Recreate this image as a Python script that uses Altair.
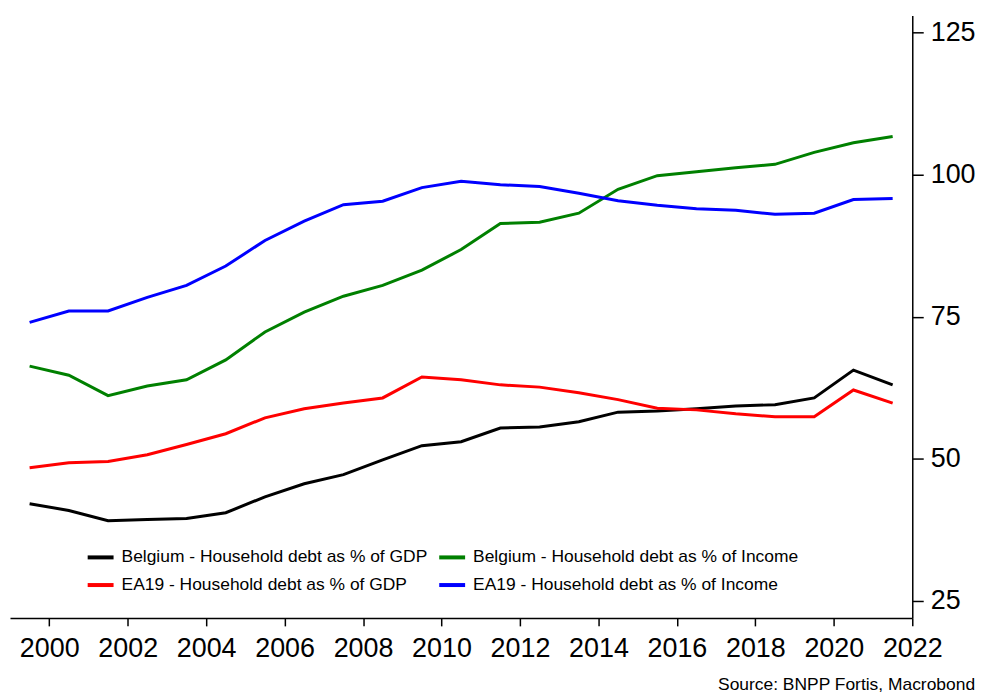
import altair as alt
import pandas as pd

years = [1999.5 + i for i in range(23)]

be_gdp = [42.1, 40.9, 39.1, 39.3, 39.5, 40.5, 43.3, 45.6, 47.2, 49.8, 52.3, 53.0,
          55.4, 55.6, 56.5, 58.2, 58.4, 58.8, 59.3, 59.5, 60.7, 65.6, 63.0]
be_inc = [66.3, 64.7, 61.1, 62.8, 63.9, 67.4, 72.3, 75.8, 78.6, 80.5, 83.2, 86.8,
          91.4, 91.6, 93.2, 97.4, 99.8, 100.5, 101.2, 101.8, 103.9, 105.6, 106.7]
ea_gdp = [48.4, 49.3, 49.5, 50.7, 52.5, 54.4, 57.2, 58.8, 59.8, 60.7, 64.4, 63.9,
          63.0, 62.6, 61.6, 60.4, 58.9, 58.6, 57.9, 57.4, 57.4, 62.1, 59.8]
ea_inc = [74.0, 76.0, 76.0, 78.4, 80.5, 83.9, 88.4, 91.8, 94.7, 95.3, 97.7, 98.8,
          98.2, 97.9, 96.7, 95.4, 94.6, 94.0, 93.7, 93.0, 93.2, 95.6, 95.8]

# legend fills column by column: column 1 = GDP series, column 2 = Income series
series_names = [
    "Belgium - Household debt as % of GDP",
    "EA19 - Household debt as % of GDP",
    "Belgium - Household debt as % of Income",
    "EA19 - Household debt as % of Income",
]
series_values = [be_gdp, ea_gdp, be_inc, ea_inc]
series_colors = ["#000000", "#ff0000", "#008000", "#0000ff"]

x_ticks = list(range(2000, 2023, 2))
y_ticks = [25, 50, 75, 100, 125]

rows = []
for name, vals in zip(series_names, series_values):
    for yr, v in zip(years, vals):
        rows.append({"year": yr, "value": v, "series": name})
df = pd.DataFrame(rows)

FONT = "Liberation Sans"

chart = alt.Chart(df).mark_line(strokeWidth=3).encode(
    x=alt.X("year:Q",
            scale=alt.Scale(domain=[1999, 2022], nice=False, zero=False),
            axis=alt.Axis(values=x_ticks, format="d", title=None, grid=False,
                          labelFontSize=27, labelFont=FONT, labelColor="black",
                          tickSize=8, tickColor="black", tickWidth=1.5,
                          domainColor="black", domainWidth=1.5,
                          labelPadding=10, labelFlush=False, labelOverlap=False)),
    y=alt.Y("value:Q",
            scale=alt.Scale(domain=[22, 128], nice=False, zero=False),
            axis=alt.Axis(orient="right", values=y_ticks, title=None, grid=False,
                          labelFontSize=27, labelFont=FONT, labelColor="black",
                          tickSize=11, tickColor="black", tickWidth=1.5,
                          domainColor="black", domainWidth=1.5,
                          labelPadding=7)),
    color=alt.Color("series:N",
                    scale=alt.Scale(domain=series_names, range=series_colors),
                    legend=alt.Legend(title=None, orient="none", legendX=76, legendY=529,
                                      columns=2, columnPadding=3, rowPadding=4,
                                      symbolType="stroke", symbolSize=676,
                                      symbolStrokeWidth=4, labelFontSize=17.5,
                                      labelFont=FONT, labelColor="black",
                                      labelOffset=6, labelLimit=0, padding=0)),
).properties(
    width=906,
    height=605,
    padding={"left": 2, "top": 6, "right": 2, "bottom": 2},
    title=alt.TitleParams("Source: BNPP Fortis, Macrobond", orient="bottom",
                          anchor="end", frame="bounds", fontSize=17.5,
                          fontWeight="normal", font=FONT, color="black", offset=14),
).configure_view(stroke=None)

chart.save("out.html", embed_options={"renderer": "svg", "actions": False})
